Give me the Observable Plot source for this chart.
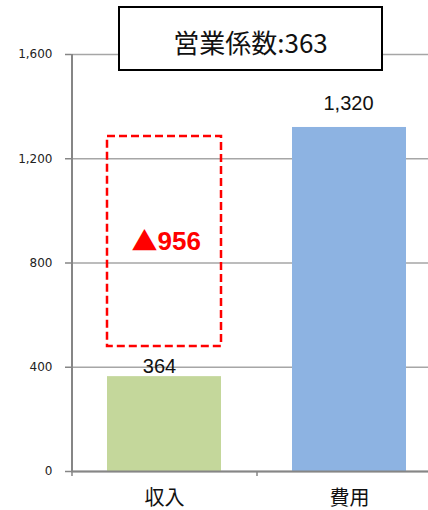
<!DOCTYPE html>
<html>
<head>
<meta charset="utf-8">
<script src="https://cdn.jsdelivr.net/npm/d3@7"></script>
<script src="https://cdn.jsdelivr.net/npm/@observablehq/plot@0.6"></script>
<style>
  html, body { margin: 0; padding: 0; background: white; }
  #wrap { position: relative; width: 428px; height: 510px; }
  #title {
    position: absolute; left: 118px; top: 6px; width: 265px; height: 65px;
    box-sizing: border-box; border: 2px solid #000; background: #fff;
    display: flex; align-items: center; justify-content: center;
    font-family: "Noto Sans CJK JP", sans-serif; font-size: 26px; color: #111;
    padding-top: 6px;
  }
</style>
</head>
<body>
<div id="wrap"><div id="title"></div></div>
<script>
const categories = ["収入", "費用"];
const values = [364, 1320];
const barColors = ["#c4d79b", "#8db3e2"];
const yTicks = [0, 400, 800, 1200, 1600];
const gapBox = [480, 1285]; // extent of dashed box (y units)
const titleLabel = "営業係数";

const data = categories.map((c, i) => ({cat: c, value: values[i], color: barColors[i]}));
const revenue = values[0], cost = values[1];
const ratio = Math.round(cost / revenue * 100);
document.getElementById("title").textContent = titleLabel + ":" + ratio;

const fmt = d3.format(",");
const box = [{cat: categories[0], lo: gapBox[0], hi: gapBox[1], label: fmt(cost - revenue)}];

const chart = Plot.plot({
  width: 428,
  height: 510,
  marginLeft: 71,
  marginRight: 0,
  marginTop: 54,
  marginBottom: 39,
  style: {background: "white", fontFamily: "'Liberation Sans', 'Noto Sans CJK JP', sans-serif"},
  x: {type: "band", domain: categories, range: [71, 441], paddingInner: 0.384, paddingOuter: 0.192, axis: null},
  y: {domain: [0, 1600], axis: null},
  color: {type: "identity"},
  marks: [
    Plot.gridY(yTicks, {stroke: "#a6a6a6", strokeOpacity: 1, strokeWidth: 1.5}),
    Plot.barY(data, {x: "cat", y: "value", fill: "color"}),
    Plot.barY(box, {x: "cat", y1: "lo", y2: "hi", fill: "none", stroke: "#ff0000", strokeWidth: 2.5, strokeDasharray: "8,4"}),
    Plot.text(box, {x: "cat", y: d => (d.lo + d.hi) / 2, text: () => "▲", fill: "#ff0000", fontSize: 26, lineAnchor: "middle", textAnchor: "end", dx: -7, dy: 1, fontFamily: "'Noto Sans CJK JP', sans-serif"}),
    Plot.text(box, {x: "cat", y: d => (d.lo + d.hi) / 2, text: "label", fill: "#ff0000", fontWeight: "bold", fontSize: 26, lineAnchor: "middle", textAnchor: "start", dx: -7, fontFamily: "'Liberation Sans', sans-serif"}),
    Plot.ruleY([0], {stroke: "#868686", strokeWidth: 2}),
    Plot.ruleX([categories[0]], {x: d => d, dx: -92.5, y1: 0, y2: 1600, stroke: "#868686", strokeWidth: 2}),
    Plot.axisY(yTicks, {tickSize: 6, tickPadding: 13, tickFormat: fmt, fontSize: 12, fontFamily: "'DejaVu Sans', sans-serif", stroke: "#868686", strokeWidth: 1.5, fill: "#222", label: null}),
    Plot.axisX(categories, {tickSize: 5, tickFormat: () => "", dx: -92.5, stroke: "#868686", strokeWidth: 1.5, label: null}),
    Plot.axisX(categories, {tickSize: 0, tickPadding: 19, fontSize: 20, fontFamily: "'Noto Sans CJK JP', sans-serif", fill: "#111", label: null}),
    Plot.text(data.filter(d => d.cat === categories[0]), {x: "cat", y: "value", text: d => fmt(d.value), lineAnchor: "bottom", dy: -4, dx: -5, fontSize: 20, fill: "#111"}),
    Plot.text(data.filter(d => d.cat === categories[1]), {x: "cat", y: "value", text: d => fmt(d.value), lineAnchor: "bottom", dy: -17, dx: -1, fontSize: 20, fill: "#111"})
  ]
});
document.getElementById("wrap").insertBefore(chart, document.getElementById("title"));
</script>
</body>
</html>
